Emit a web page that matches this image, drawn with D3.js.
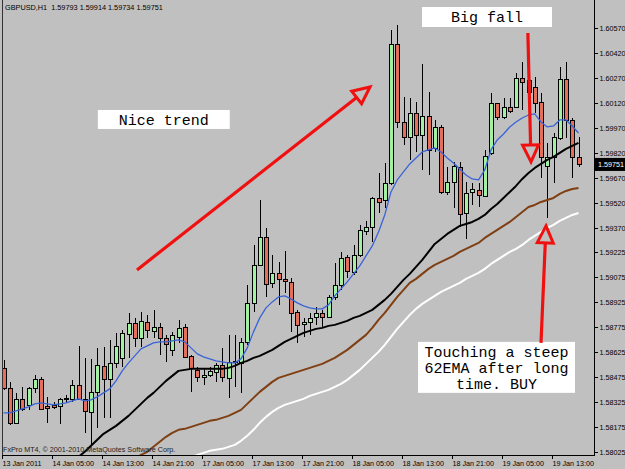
<!DOCTYPE html>
<html><head><meta charset="utf-8">
<script src="https://cdn.jsdelivr.net/npm/d3@7"></script>
<style>
html,body{margin:0;padding:0;background:#c0c0c0;}
svg{display:block;}
</style></head><body>
<svg id="c" width="625" height="469"></svg>
<script>
// ---------------- DATA ----------------
const title = "GBPUSD,H1  1.59793 1.59914 1.59734 1.59751";
const copyright = "FxPro MT4, \u00A9 2001-2010 MetaQuotes Software Corp.";
const lastPrice = 1.59751;

const timeTickBars = [0, 8, 16, 24, 32, 40, 48, 56, 64, 72, 80, 88];
const timeTickLabels = ["13 Jan 2011","14 Jan 05:00","14 Jan 13:00","14 Jan 21:00","17 Jan 05:00","17 Jan 13:00",
  "17 Jan 21:00","18 Jan 05:00","18 Jan 13:00","18 Jan 21:00","19 Jan 05:00","19 Jan 13:00"];
const priceTicks = [1.60570,1.60420,1.60270,1.60120,1.59970,1.59820,1.59670,1.59520,1.59370,
  1.59225,1.59075,1.58925,1.58775,1.58625,1.58475,1.58325,1.58175,1.58025];

const opens = [1.58530,1.58410,1.58200,1.58344,1.58308,1.58410,1.58464,1.58302,1.58308,1.58302,
1.58344,1.58344,1.58428,1.58344,1.58266,1.58386,1.58542,1.58464,1.58560,1.58590,
1.58734,1.58800,1.58710,1.58806,1.58752,1.58776,1.58710,1.58638,1.58716,1.58776,
1.58602,1.58518,1.58476,1.58488,1.58506,1.58548,1.58470,1.58566,1.58560,1.58686,
1.58920,1.59148,1.59316,1.59040,1.59100,1.59064,1.59046,1.58866,1.58794,1.58806,
1.58836,1.58860,1.58836,1.58956,1.59028,1.59196,1.59106,1.59208,1.59352,1.59376,
1.59550,1.59538,1.59640,1.60474,1.60006,1.59916,1.60060,1.59928,1.60042,1.59850,
1.59976,1.59586,1.59646,1.59736,1.59460,1.59586,1.59598,1.59562,1.59820,1.60120,
1.60036,1.60096,1.60096,1.60270,1.60258,1.60216,1.60126,1.59742,1.59796,1.59910,
1.60264,1.60018,1.59793];
const highs = [1.58578,1.58446,1.58380,1.58416,1.58416,1.58488,1.58476,1.58356,1.58326,1.58350,
1.58368,1.58458,1.58662,1.58590,1.58584,1.58650,1.58656,1.58698,1.58740,1.58758,
1.58860,1.58830,1.58866,1.58848,1.58878,1.58800,1.58728,1.58746,1.58818,1.58794,
1.58608,1.58536,1.58530,1.58536,1.58560,1.58650,1.58728,1.58728,1.58710,1.59028,
1.59268,1.59538,1.59370,1.59208,1.59166,1.59232,1.59070,1.58878,1.58830,1.58860,
1.58896,1.58878,1.58968,1.59160,1.59226,1.59208,1.59268,1.59388,1.59412,1.59556,
1.59700,1.59760,1.60558,1.60588,1.60156,1.60150,1.60126,1.60354,1.60186,1.60018,
1.59988,1.59736,1.59766,1.59766,1.59646,1.59640,1.59640,1.59838,1.60180,1.60120,
1.60150,1.60150,1.60300,1.60366,1.60300,1.60276,1.60180,1.59880,1.59940,1.60336,
1.60366,1.60030,1.59914];
const lows = [1.58398,1.58188,1.58194,1.58272,1.58278,1.58380,1.58278,1.58200,1.58284,1.58194,
1.58320,1.58326,1.58338,1.58140,1.58068,1.58170,1.58230,1.58230,1.58530,1.58536,
1.58590,1.58656,1.58656,1.58710,1.58710,1.58608,1.58566,1.58602,1.58680,1.58590,
1.58386,1.58446,1.58428,1.58476,1.58446,1.58446,1.58350,1.58416,1.58380,1.58668,
1.58866,1.59148,1.58956,1.59010,1.58908,1.58980,1.58746,1.58680,1.58716,1.58728,
1.58788,1.58776,1.58830,1.58938,1.58998,1.59070,1.59088,1.59196,1.59328,1.59286,
1.59460,1.59490,1.59628,1.59970,1.59868,1.59778,1.59826,1.59718,1.59688,1.59826,
1.59574,1.59568,1.59490,1.59376,1.59304,1.59508,1.59496,1.59556,1.59808,1.60018,
1.60024,1.60060,1.60096,1.60078,1.60078,1.60060,1.59670,1.59430,1.59640,1.59898,
1.59910,1.59670,1.59734];
const closes = [1.58410,1.58200,1.58344,1.58284,1.58410,1.58464,1.58284,1.58290,1.58296,1.58344,
1.58350,1.58428,1.58344,1.58272,1.58386,1.58548,1.58464,1.58560,1.58662,1.58740,
1.58800,1.58710,1.58812,1.58758,1.58776,1.58710,1.58674,1.58728,1.58770,1.58596,
1.58530,1.58476,1.58488,1.58512,1.58548,1.58476,1.58566,1.58572,1.58686,1.58920,
1.59148,1.59316,1.59034,1.59100,1.59064,1.59052,1.58860,1.58788,1.58806,1.58830,
1.58860,1.58836,1.58956,1.59028,1.59190,1.59112,1.59208,1.59358,1.59376,1.59550,
1.59526,1.59640,1.60474,1.60006,1.59916,1.60060,1.59928,1.60042,1.59838,1.59976,
1.59586,1.59646,1.59742,1.59454,1.59580,1.59604,1.59568,1.59802,1.60120,1.60036,
1.60096,1.60072,1.60270,1.60246,1.60186,1.60120,1.59796,1.59796,1.59916,1.60264,
1.60018,1.59796,1.59751];

// fast EMA (blue)
const emaFast = [1.58260,1.58260,1.58272,1.58284,1.58296,1.58314,1.58320,1.58314,1.58308,1.58314,
1.58320,1.58332,1.58344,1.58332,1.58338,1.58356,1.58380,1.58404,1.58452,1.58512,
1.58560,1.58602,1.58644,1.58662,1.58680,1.58686,1.58686,1.58692,1.58698,1.58686,
1.58650,1.58614,1.58596,1.58584,1.58572,1.58566,1.58560,1.58560,1.58584,1.58650,
1.58746,1.58830,1.58890,1.58926,1.58956,1.58962,1.58944,1.58920,1.58902,1.58890,
1.58884,1.58884,1.58908,1.58962,1.59004,1.59046,1.59094,1.59142,1.59202,1.59262,
1.59346,1.59448,1.59586,1.59658,1.59706,1.59754,1.59790,1.59826,1.59838,1.59850,
1.59826,1.59790,1.59760,1.59724,1.59688,1.59664,1.59658,1.59718,1.59838,1.59898,
1.59934,1.59976,1.60006,1.60030,1.60048,1.60054,1.60006,1.59976,1.59982,1.60018,
1.60018,1.59982,1.59940];
// 62 EMA (black)
const ema62 = [null,null,null,null,null,null,null,null,null,null,
null,null,1.57996,1.58026,1.58062,1.58098,1.58134,1.58158,1.58182,1.58212,
1.58242,1.58278,1.58314,1.58350,1.58380,1.58416,1.58452,1.58482,1.58512,1.58518,
1.58524,1.58524,1.58524,1.58524,1.58524,1.58524,1.58530,1.58542,1.58560,1.58572,
1.58590,1.58602,1.58620,1.58638,1.58662,1.58686,1.58704,1.58722,1.58740,1.58752,
1.58764,1.58770,1.58782,1.58788,1.58800,1.58812,1.58830,1.58842,1.58860,1.58878,
1.58908,1.58938,1.58974,1.59016,1.59058,1.59094,1.59136,1.59178,1.59226,1.59274,
1.59304,1.59334,1.59358,1.59382,1.59394,1.59406,1.59424,1.59448,1.59484,1.59514,
1.59550,1.59586,1.59622,1.59664,1.59700,1.59730,1.59754,1.59778,1.59796,1.59820,
1.59844,1.59862,1.59880];
// lower band (brown)
const bandBrown = [null,null,null,null,null,null,null,null,null,null,
null,null,null,null,null,null,null,null,null,null,
null,1.57984,1.58008,1.58026,1.58056,1.58086,1.58116,1.58140,1.58158,1.58164,
1.58176,1.58188,1.58200,1.58212,1.58218,1.58230,1.58242,1.58260,1.58278,1.58314,
1.58350,1.58386,1.58416,1.58446,1.58470,1.58482,1.58494,1.58506,1.58518,1.58530,
1.58542,1.58554,1.58572,1.58590,1.58614,1.58638,1.58668,1.58698,1.58728,1.58770,
1.58818,1.58860,1.58908,1.58956,1.58998,1.59040,1.59064,1.59094,1.59124,1.59148,
1.59166,1.59184,1.59202,1.59226,1.59244,1.59262,1.59280,1.59310,1.59334,1.59358,
1.59382,1.59406,1.59436,1.59466,1.59496,1.59508,1.59526,1.59538,1.59550,1.59574,
1.59592,1.59604,1.59610];
// lower band (white)
const bandWhite = [null,null,null,null,null,null,null,null,null,null,
null,null,null,null,null,null,null,null,null,null,
null,null,null,null,null,null,null,null,null,null,
1.57990,1.58008,1.58020,1.58032,1.58038,1.58044,1.58056,1.58068,1.58092,1.58122,
1.58158,1.58200,1.58236,1.58266,1.58290,1.58308,1.58320,1.58332,1.58344,1.58362,
1.58374,1.58386,1.58398,1.58416,1.58434,1.58458,1.58488,1.58518,1.58554,1.58590,
1.58626,1.58668,1.58716,1.58764,1.58806,1.58848,1.58884,1.58914,1.58938,1.58962,
1.58986,1.59004,1.59022,1.59040,1.59064,1.59082,1.59100,1.59124,1.59154,1.59178,
1.59202,1.59226,1.59244,1.59268,1.59298,1.59322,1.59346,1.59370,1.59388,1.59412,
1.59430,1.59448,1.59460];

// annotations in data space (bar index, price)
const noteBoxes = [
  {lines:["Nice trend"], i0:15.1, i1:36.2, pTop:1.60078, pBot:1.59964},
  {lines:["Big fall"], i0:66.96, i1:87.76, pTop:1.60696, pBot:1.60576},
  {lines:["Touching a steep","62EMA after long","time. BUY"], i0:66.32, i1:91.44, pTop:1.58686, pBot:1.58380}
];
const arrows = [
  {i1:21.36, p1:1.59118, i2:58.64, p2:1.60216},
  {i1:83.9, p1:1.60540, i2:84.4, p2:1.59766},
  {i1:86.0, p1:1.58680, i2:86.8, p2:1.59382}
];

// ---------------- DRAW ----------------
const svg = d3.select("#c");
const BG = "#c0c0c0";
const SANS = "'Liberation Sans', Arial, sans-serif";
const MONO = "'Liberation Mono', 'Courier New', monospace";
const pLeft = 2, pRight = 594, pTop = 0, pBottom = 455;

const x = d3.scaleLinear().domain([0, 92]).range([3.5, 578.5]);
const y = d3.scaleLinear().domain([1.58025, 1.60570]).range([452, 28]);

svg.append("rect").attr("width",625).attr("height",469).attr("fill",BG);

svg.append("defs").append("clipPath").attr("id","clip")
  .append("rect").attr("x",pLeft).attr("y",pTop).attr("width",pRight-pLeft).attr("height",pBottom-pTop);

const plot = svg.append("g").attr("clip-path","url(#clip)");

// candles
const bars = d3.range(opens.length).map(i => ({i, o:opens[i], h:highs[i], l:lows[i], c:closes[i]}));
const cx = i => Math.round(x(i)) + 0.5;
const cg = plot.append("g").attr("shape-rendering","crispEdges");
cg.selectAll("line.wick").data(bars).join("line")
  .attr("x1", d=>cx(d.i)).attr("x2", d=>cx(d.i))
  .attr("y1", d=>y(d.h)).attr("y2", d=>y(d.l))
  .attr("stroke","#000").attr("stroke-width",1);
cg.selectAll("rect.body").data(bars).join("rect")
  .attr("x", d=>cx(d.i)-2).attr("width",4)
  .attr("y", d=>Math.round(y(Math.max(d.o,d.c)))+0.5)
  .attr("height", d=>Math.max(0, Math.round(y(Math.min(d.o,d.c))) - Math.round(y(Math.max(d.o,d.c)))))
  .attr("fill", d=> d.c >= d.o ? "#a2f0a2" : "#e4705c")
  .attr("stroke","#000").attr("stroke-width",1);

// indicator lines
const lineGen = d3.line().defined(d=>d!=null).x((d,i)=>x(i)).y(d=>y(d)).curve(d3.curveLinear);
function drawLine(arr, color, w){
  plot.append("path").datum(arr).attr("d", lineGen)
    .attr("fill","none").attr("stroke",color).attr("stroke-width",w)
    .attr("stroke-linejoin","round");
}
drawLine(bandWhite, "#ffffff", 2);
drawLine(bandBrown, "#7f3f12", 2);
drawLine(ema62, "#000000", 2);
drawLine(emaFast, "#3a63d8", 1.3);

// frame
svg.append("line").attr("x1",pLeft+0.5).attr("x2",pLeft+0.5).attr("y1",0).attr("y2",pBottom)
  .attr("stroke","#333").attr("shape-rendering","crispEdges");
svg.append("line").attr("x1",pLeft).attr("x2",pRight).attr("y1",pBottom+0.5).attr("y2",pBottom+0.5)
  .attr("stroke","#000").attr("shape-rendering","crispEdges");
svg.append("line").attr("x1",pRight+0.5).attr("x2",pRight+0.5).attr("y1",0).attr("y2",pBottom+1)
  .attr("stroke","#000").attr("shape-rendering","crispEdges");

// price axis
const yAxis = d3.axisRight(y).tickValues(priceTicks).tickFormat(d3.format(".5f")).tickSize(3).tickPadding(2);
const ya = svg.append("g").attr("transform",`translate(${pRight+0.5},0)`).call(yAxis);
ya.select(".domain").remove();
ya.selectAll("line").attr("stroke","#000").attr("shape-rendering","crispEdges");
ya.selectAll("text").style("font-size","7.2px").style("font-family",SANS).attr("fill","#000");

// time axis
const xAxis = d3.axisBottom(x).tickValues(timeTickBars)
  .tickFormat((d,k)=>timeTickLabels[k]).tickSize(3).tickPadding(2);
const xa = svg.append("g").attr("transform",`translate(-1.5,${pBottom+0.5})`).call(xAxis);
xa.select(".domain").remove();
xa.selectAll("line").attr("stroke","#000").attr("shape-rendering","crispEdges");
xa.selectAll("text").style("font-size","7.2px").style("font-family",SANS).attr("fill","#000").attr("text-anchor","start");

// last price tag
const ly = y(lastPrice);
svg.append("rect").attr("x",pRight+1).attr("y",ly-6.5).attr("width",625-pRight-1).attr("height",13).attr("fill","#000");
svg.append("text").attr("x",pRight+4).attr("y",ly).attr("dy","0.35em")
  .style("font-size","7.2px").style("font-family",SANS)
  .attr("fill","#fff").text(d3.format(".5f")(lastPrice));

// header + copyright
svg.append("text").attr("x",5).attr("y",10).style("font-size","7.3px").style("font-family",SANS).attr("fill","#000")
  .style("white-space","pre").text(title);
svg.append("text").attr("x",3).attr("y",452).style("font-size","7.2px").style("font-family",SANS).attr("fill","#222").text(copyright);

// annotation boxes
const ag = svg.append("g");
noteBoxes.forEach(b=>{
  const x0 = x(b.i0), x1 = x(b.i1), y0 = y(b.pTop), y1 = y(b.pBot);
  ag.append("rect").attr("x",x0).attr("y",y0).attr("width",x1-x0).attr("height",y1-y0).attr("fill","#fff");
  const n = b.lines.length, lh = 16;
  const mid = (y0+y1)/2;
  b.lines.forEach((t,k)=>{
    ag.append("text").attr("x",(x0+x1)/2).attr("y", mid + (k-(n-1)/2)*lh)
      .attr("dy","0.35em").attr("text-anchor","middle")
      .style("font-family",MONO).style("font-size","15px")
      .attr("fill","#000").text(t);
  });
});

// arrows
arrows.forEach(a=>{
  const X1=x(a.i1), Y1=y(a.p1), X2=x(a.i2), Y2=y(a.p2);
  const dx=X2-X1, dy=Y2-Y1, len=Math.hypot(dx,dy), ux=dx/len, uy=dy/len;
  const L=17, hw=8;
  const bx=X2-ux*L, by=Y2-uy*L, nx=-uy, ny=ux;
  ag.append("line").attr("x1",X1).attr("y1",Y1).attr("x2",bx).attr("y2",by)
    .attr("stroke","#f01010").attr("stroke-width",3.2);
  ag.append("path").attr("d",`M${X2},${Y2}L${bx+nx*hw},${by+ny*hw}L${bx-nx*hw},${by-ny*hw}Z`)
    .attr("fill","none").attr("stroke","#f01010").attr("stroke-width",3).attr("stroke-linejoin","miter");
});
</script>
</body></html>
